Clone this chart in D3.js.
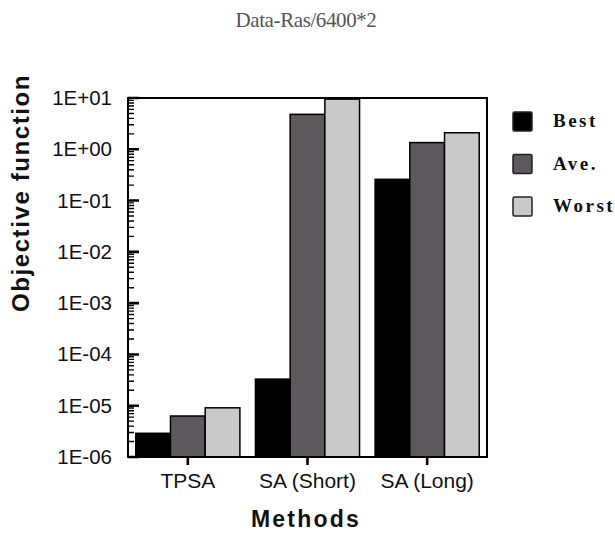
<!DOCTYPE html>
<html lang="en">
  <head>
    <meta charset="UTF-8">
    <title>Data-Ras/6400*2</title>
    <style>
      body { margin: 0; background: #fff; }
    </style>
  </head>
  <body>
    <div id="chart-container"></div>
    <script src="https://d3js.org/d3.v7.min.js"></script>
    <script>
      // chart values
      const methods = ["TPSA", "SA (Short)", "SA (Long)"];
      const seriesNames = ["Best", "Ave.", "Worst"];
      const best  = [2.9e-6, 3.3e-5, 0.26];
      const ave   = [6.3e-6, 4.8, 1.35];
      const worst = [9.1e-6, 9.5, 2.1];
      const yTicks = [1e-6, 1e-5, 1e-4, 1e-3, 1e-2, 1e-1, 1e0, 1e1];
      const yTickLabels = ["1E-06", "1E-05", "1E-04", "1E-03", "1E-02", "1E-01", "1E+00", "1E+01"];
      const colors = ["#000000", "#5d585b", "#c9c9c9"];

      const series = [best, ave, worst];
      const rows = [];
      methods.forEach(function(m, i) {
        seriesNames.forEach(function(s, j) {
          rows.push({ method: m, name: s, value: series[j][i] });
        });
      });

      const margin = { top: 98, right: 128, bottom: 76, left: 128 };
      const width = 615 - margin.left - margin.right;
      const height = 533 - margin.top - margin.bottom;

      const root = d3.select("#chart-container")
        .append("svg")
        .attr("width", 615)
        .attr("height", 533);

      const svg = root.append("g")
        .attr("transform", "translate(" + margin.left + "," + margin.top + ")");

      // scales
      const x = d3.scaleBand().domain(methods).range([0, width])
        .paddingInner(0.13).paddingOuter(0.065);
      const xs = d3.scaleBand().domain(seriesNames).range([0, x.bandwidth()]);
      const y = d3.scaleLog().domain([1e-6, 1e1]).range([height, 0]);

      // bars
      svg.append("g")
        .selectAll("rect")
        .data(rows)
        .enter()
        .append("rect")
        .attr("x", d => x(d.method) + xs(d.name))
        .attr("width", xs.bandwidth())
        .attr("y", d => y(d.value))
        .attr("height", d => height - y(d.value))
        .attr("fill", d => colors[seriesNames.indexOf(d.name)])
        .attr("stroke", "#000")
        .attr("stroke-width", 1.5);

      // y tick labels
      const yAxis = svg.append("g")
        .call(d3.axisLeft(y).tickValues(yTicks).tickSize(0).tickPadding(16)
          .tickFormat((d, i) => yTickLabels[i]));
      yAxis.select(".domain").remove();
      yAxis.selectAll("text")
        .style("font-family", "Liberation Sans, Arial, sans-serif")
        .style("font-size", "20.5px")
        .attr("fill", "#111");

      // x axis labels
      const xAxis = svg.append("g")
        .attr("transform", "translate(0," + height + ")")
        .call(d3.axisBottom(x).tickSize(0).tickPadding(16));
      xAxis.select(".domain").remove();
      xAxis.selectAll("text")
        .style("font-family", "Liberation Sans, Arial, sans-serif")
        .style("font-size", "21px")
        .attr("fill", "#111");

      // frame
      svg.append("rect")
        .attr("x", 0).attr("y", 0)
        .attr("width", width).attr("height", height)
        .attr("fill", "none")
        .attr("stroke", "#000")
        .attr("stroke-width", 2);

      // tick marks: minor and major on y (inward), major on x (outward)
      const minor = [];
      for (let e = -6; e < 1; e++) {
        for (let k = 2; k <= 9; k++) minor.push(k * Math.pow(10, e));
      }
      const tickPath = d3.path();
      minor.forEach(function(v) {
        tickPath.moveTo(margin.left, margin.top + y(v));
        tickPath.lineTo(margin.left + 6, margin.top + y(v));
      });
      root.append("path")
        .attr("d", tickPath.toString())
        .attr("fill", "none")
        .attr("stroke", "#000")
        .attr("stroke-width", 1.4);

      const majorPath = d3.path();
      yTicks.forEach(function(v) {
        majorPath.moveTo(margin.left, margin.top + y(v));
        majorPath.lineTo(margin.left + 11, margin.top + y(v));
      });
      methods.forEach(function(m) {
        const cx = margin.left + x(m) + x.bandwidth() / 2;
        majorPath.moveTo(cx, margin.top + height);
        majorPath.lineTo(cx, margin.top + height + 8);
      });
      root.append("path")
        .attr("d", majorPath.toString())
        .attr("fill", "none")
        .attr("stroke", "#000")
        .attr("stroke-width", 2.6);

      // title
      root.append("text")
        .attr("x", 306)
        .attr("y", 27)
        .attr("text-anchor", "middle")
        .style("font-family", "Liberation Serif, Times New Roman, serif")
        .style("font-size", "21px")
        .style("letter-spacing", "-0.4px")
        .attr("fill", "#555")
        .text("Data-Ras/6400*2");

      // y label
      root.append("text")
        .attr("transform", "translate(29,193) rotate(-90)")
        .attr("text-anchor", "middle")
        .style("font-family", "Liberation Sans, Arial, sans-serif")
        .style("font-size", "24px")
        .style("font-weight", "bold")
        .style("letter-spacing", "1.6px")
        .attr("fill", "#111")
        .text("Objective function");

      // x label
      root.append("text")
        .attr("x", 306)
        .attr("y", 527)
        .attr("text-anchor", "middle")
        .style("font-family", "Liberation Sans, Arial, sans-serif")
        .style("font-size", "23px")
        .style("font-weight", "bold")
        .style("letter-spacing", "2.2px")
        .attr("fill", "#111")
        .text("Methods");

      // legend
      const legend = root.append("g").attr("transform", "translate(513,112)");
      const item = legend.selectAll("g")
        .data(seriesNames)
        .enter()
        .append("g")
        .attr("transform", (d, i) => "translate(0," + (i * 42.5) + ")");
      item.append("rect")
        .attr("width", 19).attr("height", 19)
        .attr("rx", 1.5)
        .attr("fill", (d, i) => colors[i])
        .attr("stroke", "#222")
        .attr("stroke-width", 1.5);
      item.append("text")
        .attr("x", 40)
        .attr("y", 15)
        .style("font-family", "Liberation Serif, Times New Roman, serif")
        .style("font-size", "19px")
        .style("font-weight", "bold")
        .style("letter-spacing", "2.5px")
        .attr("fill", "#111")
        .text(d => d);
    </script>
  </body>
</html>
